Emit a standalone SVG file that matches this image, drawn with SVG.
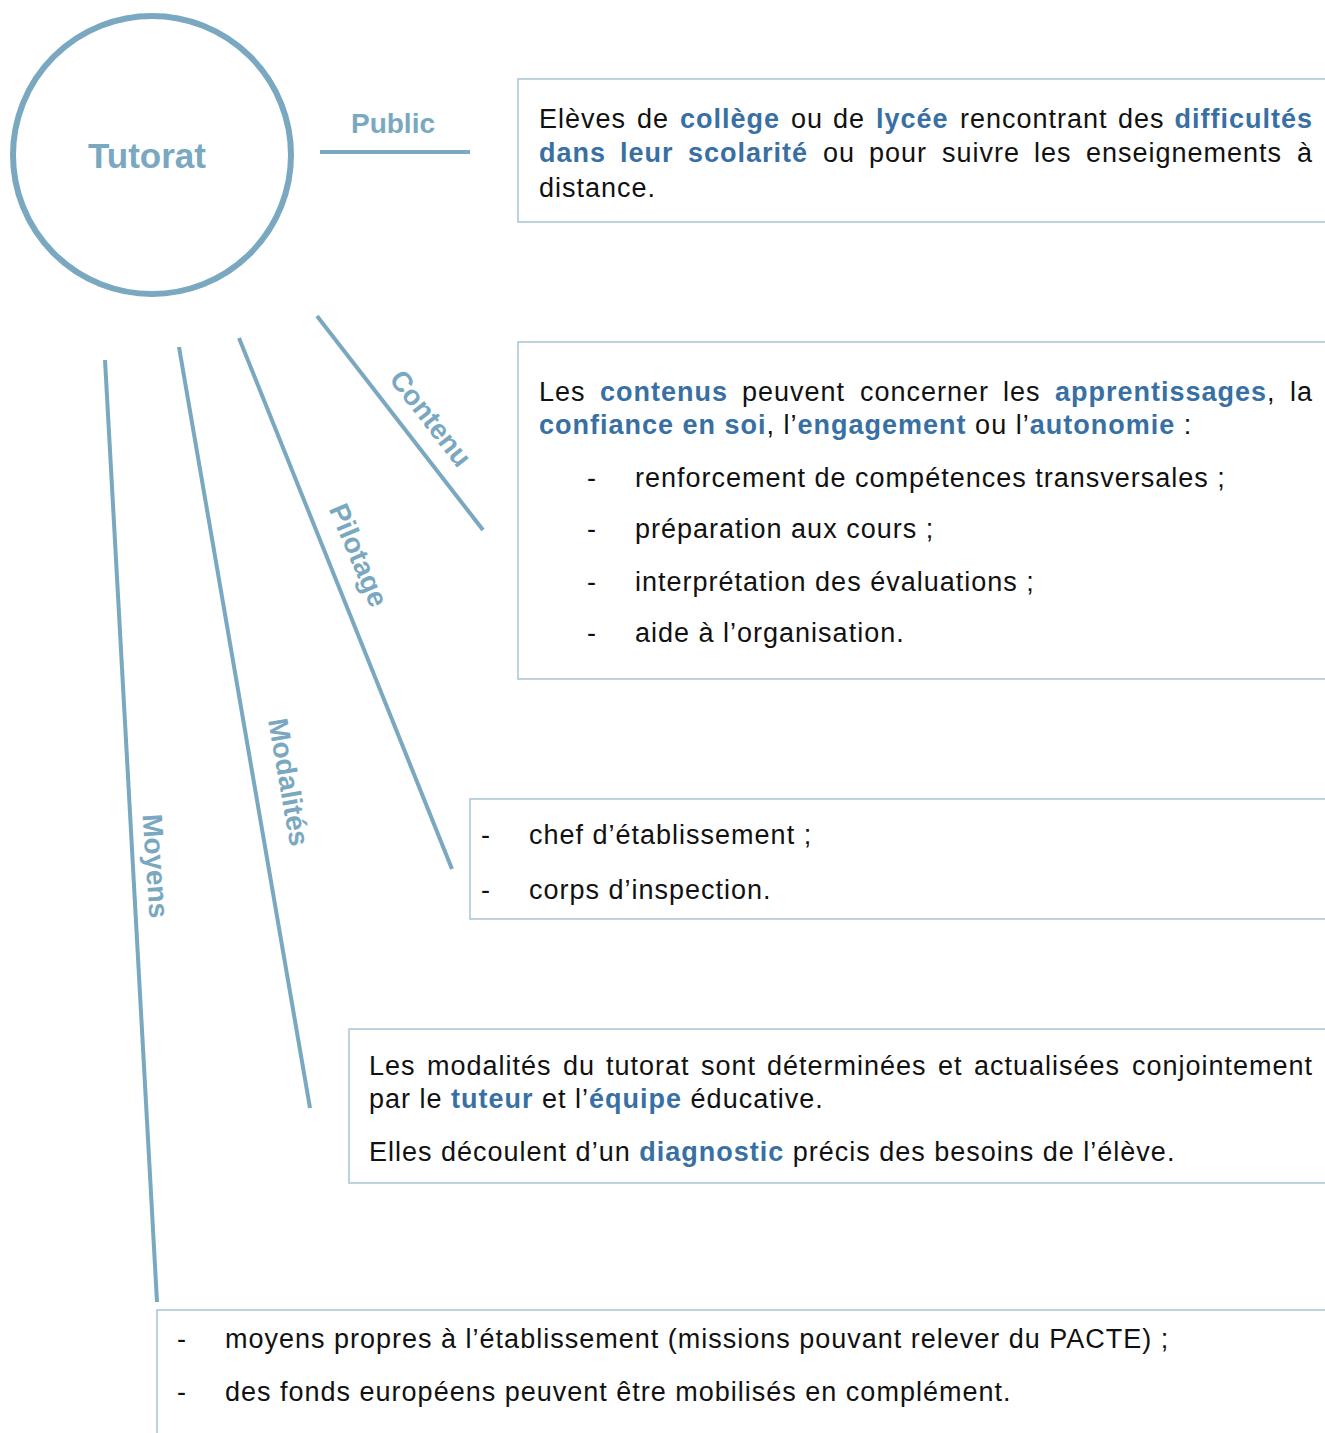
<svg xmlns="http://www.w3.org/2000/svg" width="1325" height="1433" viewBox="0 0 1325 1433">
<style>
.t{font-family:"Liberation Sans",Arial,sans-serif;font-size:27px;letter-spacing:1px;fill:#111}
.b{font-weight:bold;fill:#3870a4}
.lbl{font-family:"Liberation Sans",Arial,sans-serif;font-weight:bold;font-size:28px;fill:#79a8c0;text-anchor:middle}
.con{stroke:#79a8c0;stroke-width:4;fill:none;stroke-linecap:butt}
.box{fill:#fff;stroke:#a6c5d5;stroke-width:1.5}
</style>
<rect width="1325" height="1433" fill="#fff"/>
<g id="connectors">
<line class="con" x1="320" y1="152" x2="470" y2="152"/>
<line class="con" x1="317" y1="316" x2="483" y2="530"/>
<line class="con" x1="239" y1="338" x2="452" y2="869"/>
<line class="con" x1="179" y1="347" x2="310" y2="1108"/>
<line class="con" x1="105" y1="360" x2="157" y2="1302"/>
<text class="lbl" x="393" y="133">Public</text>
<text class="lbl" transform="translate(431,418) rotate(52)" y="10">Contenu</text>
<text class="lbl" transform="translate(359,555) rotate(67)" y="10">Pilotage</text>
<text class="lbl" transform="translate(289,782) rotate(80)" y="10">Modalités</text>
<text class="lbl" transform="translate(156,866) rotate(86)" y="10">Moyens</text>
</g>
<g id="tutorat">
<circle cx="152" cy="155" r="139" fill="none" stroke="#79a8c0" stroke-width="6"/>
<text x="147" y="168" font-family="Liberation Sans,Arial,sans-serif" font-weight="bold" font-size="35" fill="#79a8c0" text-anchor="middle">Tutorat</text>
</g>
<g id="public">
<rect class="box" x="518" y="79" width="820" height="143"/>
<text class="t" y="128"><tspan x="539">Elèves</tspan><tspan x="637">de</tspan><tspan x="680" class="b">collège</tspan><tspan x="791">ou</tspan><tspan x="833">de</tspan><tspan x="876" class="b">lycée</tspan><tspan x="960">rencontrant</tspan><tspan x="1118">des</tspan><tspan x="1313" text-anchor="end" class="b">difficultés</tspan></text>
<text class="t" y="162"><tspan x="539" class="b">dans</tspan><tspan x="620" class="b">leur</tspan><tspan x="688" class="b">scolarité</tspan><tspan x="823">ou</tspan><tspan x="869">pour</tspan><tspan x="942">suivre</tspan><tspan x="1034">les</tspan><tspan x="1086">enseignements</tspan><tspan x="1313" text-anchor="end">à</tspan></text>
<text class="t" x="539" y="197">distance.</text>
</g>
<g id="contenu">
<rect class="box" x="518" y="342" width="820" height="337"/>
<text class="t" y="401"><tspan x="539">Les</tspan><tspan x="600" class="b">contenus</tspan><tspan x="742">peuvent</tspan><tspan x="860">concerner</tspan><tspan x="1003">les</tspan><tspan x="1055" class="b">apprentissages</tspan>,<tspan x="1313" text-anchor="end">la</tspan></text>
<text class="t" x="539" y="434"><tspan class="b">confiance en soi</tspan>, l’<tspan class="b">engagement</tspan> ou l’<tspan class="b">autonomie</tspan> :</text>
<text class="t" x="587" y="487">-</text><text class="t" x="635" y="487">renforcement de compétences transversales ;</text>
<text class="t" x="587" y="538">-</text><text class="t" x="635" y="538">préparation aux cours ;</text>
<text class="t" x="587" y="591">-</text><text class="t" x="635" y="591">interprétation des évaluations ;</text>
<text class="t" x="587" y="642">-</text><text class="t" x="635" y="642">aide à l’organisation.</text>
</g>
<g id="pilotage">
<rect class="box" x="470" y="799" width="870" height="120"/>
<text class="t" x="481" y="844">-</text><text class="t" x="529" y="844">chef d’établissement ;</text>
<text class="t" x="481" y="899">-</text><text class="t" x="529" y="899">corps d’inspection.</text>
</g>
<g id="modalites">
<rect class="box" x="349" y="1029" width="990" height="154"/>
<text class="t" y="1075"><tspan x="369">Les</tspan><tspan x="427">modalités</tspan><tspan x="563">du</tspan><tspan x="606">tutorat</tspan><tspan x="701">sont</tspan><tspan x="767">déterminées</tspan><tspan x="938">et</tspan><tspan x="974">actualisées</tspan><tspan x="1313" text-anchor="end">conjointement</tspan></text>
<text class="t" x="369" y="1108">par le <tspan class="b">tuteur</tspan> et l’<tspan class="b">équipe</tspan> éducative.</text>
<text class="t" x="369" y="1161">Elles découlent d’un <tspan class="b">diagnostic</tspan> précis des besoins de l’élève.</text>
</g>
<g id="moyens">
<rect class="box" x="157" y="1310" width="1180" height="140"/>
<text class="t" x="177" y="1348">-</text><text class="t" x="225" y="1348">moyens propres à l’établissement (missions pouvant relever du PACTE) ;</text>
<text class="t" x="177" y="1401">-</text><text class="t" x="225" y="1401">des fonds européens peuvent être mobilisés en complément.</text>
</g>
</svg>
